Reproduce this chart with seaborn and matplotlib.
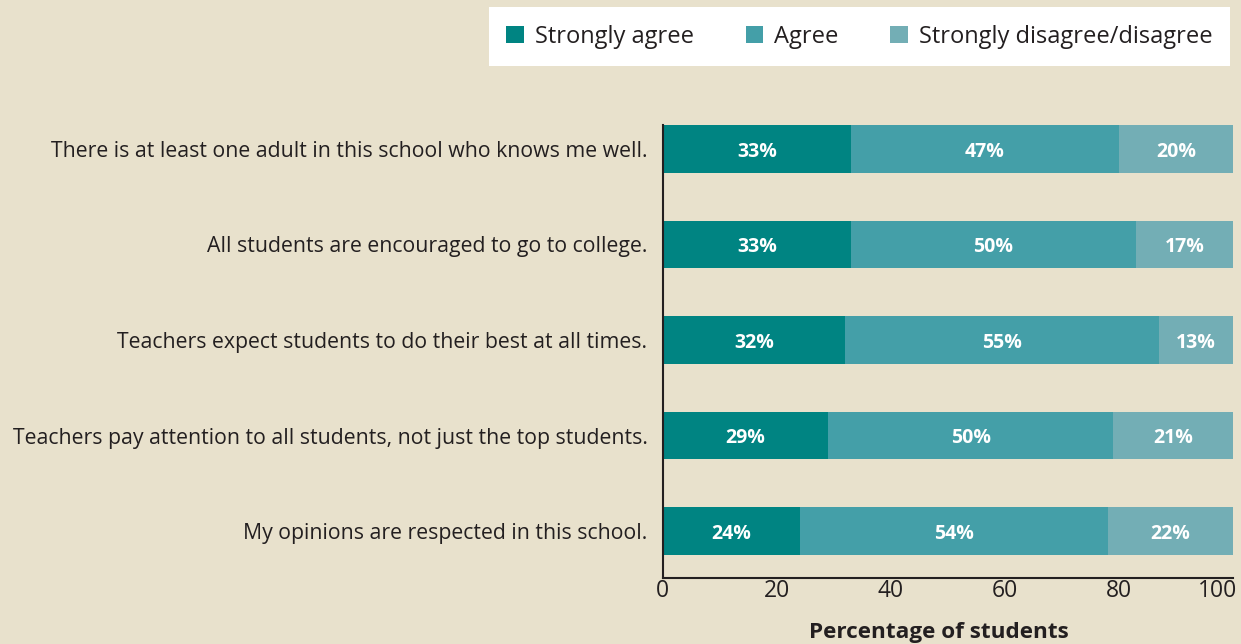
import matplotlib
matplotlib.use("Agg")
import matplotlib.pyplot as plt
import matplotlib.transforms as mtransforms
import seaborn as sns
import pandas as pd
from matplotlib.patches import Patch

statements = [
    "There is at least one adult in this school who knows me well.",
    "All students are encouraged to go to college.",
    "Teachers expect students to do their best at all times.",
    "Teachers pay attention to all students, not just the top students.",
    "My opinions are respected in this school.",
]
strongly_agree = [33, 33, 32, 29, 24]
agree = [47, 50, 55, 50, 54]
disagree = [20, 17, 13, 21, 22]
series_names = ["Strongly agree", "Agree", "Strongly disagree/disagree"]
x_ticks = [0, 20, 40, 60, 80, 100]

colors = ["#008482", "#449fa8", "#73aeb5"]
bg = "#e8e1cc"
ink = "#231f20"

sns.set_theme(style="white")
plt.rcParams["font.family"] = ["Open Sans", "DejaVu Sans"]

df = pd.DataFrame({
    "statement": statements,
    "sa": strongly_agree,
    "ag": agree,
    "dis": disagree,
})
df["cum_ag"] = df["sa"] + df["ag"]
df["cum_all"] = df["cum_ag"] + df["dis"]

fig = plt.figure(figsize=(12.41, 6.44), dpi=100)
fig.patch.set_facecolor(bg)
ax = fig.add_axes([0.534, 0.1025, 0.4596, 0.7035])
ax.set_facecolor(bg)

# stacked horizontal bars: draw cumulative totals back to front
for col, c in zip(["cum_all", "cum_ag", "sa"], colors[::-1]):
    sns.barplot(data=df, x=col, y="statement", orient="h", color=c,
                width=0.5, saturation=1, ax=ax, linewidth=0)

# segment labels
for i in range(len(statements)):
    lefts = [0, strongly_agree[i], strongly_agree[i] + agree[i]]
    vals = [strongly_agree[i], agree[i], disagree[i]]
    for l, v in zip(lefts, vals):
        ax.text(l + v / 2, i + 0.03, f"{v}%", ha="center", va="center",
                color="white", fontsize=14, fontweight="bold")

ax.set_xlim(0, 100)
ax.set_ylim(4.49, -0.25)
ax.set_xticks(x_ticks)
ax.set_xticklabels([str(t) for t in x_ticks], fontsize=16.5, color=ink)
ax.tick_params(axis="y", labelsize=15.3, labelcolor=ink, length=0, pad=11)
ax.tick_params(axis="x", length=0, pad=1)
# keep the last tick label inside the figure
last = ax.get_xticklabels()[-1]
last.set_transform(last.get_transform() +
                   mtransforms.ScaledTranslation(-16 / 100, 0, fig.dpi_scale_trans))
ax.set_ylabel("")
ax.set_xlabel("Percentage of students", fontsize=16.2, fontweight="bold",
              color=ink)
ax.xaxis.set_label_coords(0.485, -0.097)
for s in ["top", "right"]:
    ax.spines[s].set_visible(False)
for s in ["left", "bottom"]:
    ax.spines[s].set_color(ink)
    ax.spines[s].set_linewidth(1.5)

handles = [Patch(facecolor=c, edgecolor="none") for c in colors]
leg = fig.legend(handles, series_names, loc="upper right",
                 bbox_to_anchor=(0.9911, 0.9891), ncol=3, frameon=True,
                 fancybox=False, fontsize=17, handlelength=0.75,
                 handleheight=0.75, handletextpad=0.45, columnspacing=2.2,
                 borderpad=0.75, borderaxespad=0, labelcolor=ink,
                 framealpha=1)
leg.get_frame().set_facecolor("white")
leg.get_frame().set_edgecolor("white")
leg.get_frame().set_linewidth(0)

fig.savefig("out.png", dpi=100, facecolor=bg)
